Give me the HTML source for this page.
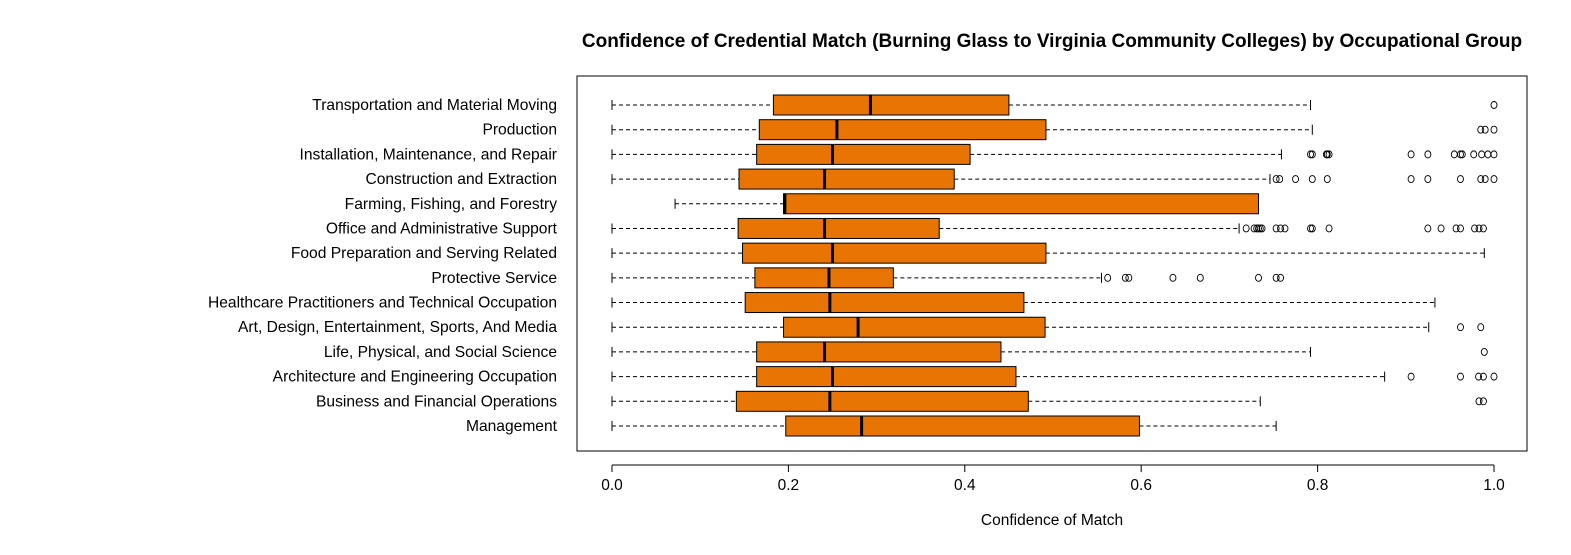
<!DOCTYPE html>
<html><head><meta charset="utf-8"><style>
body{margin:0;background:#fff;width:1571px;height:550px;overflow:hidden}
svg text{font-family:"Liberation Sans",Arial,sans-serif}
</style></head><body>
<svg id="chart" width="1571" height="550" xmlns="http://www.w3.org/2000/svg">
<text x="1052" y="47" text-anchor="middle" font-size="19" font-weight="bold">Confidence of Credential Match (Burning Glass to Virginia Community Colleges) by Occupational Group</text>
<rect x="577" y="76" width="950" height="375" fill="none" stroke="#000" stroke-width="1"/>
<g id="marks"></g>
<text x="1052" y="525" text-anchor="middle" font-size="15.5">Confidence of Match</text>
</svg>
<script>
const categories=["Transportation and Material Moving","Production","Installation, Maintenance, and Repair","Construction and Extraction","Farming, Fishing, and Forestry","Office and Administrative Support","Food Preparation and Serving Related","Protective Service","Healthcare Practitioners and Technical Occupation","Art, Design, Entertainment, Sports, And Media","Life, Physical, and Social Science","Architecture and Engineering Occupation","Business and Financial Operations","Management"];
const whiskerLow=[0,0,0,0,0.0715,0,0,0,0,0,0,0,0,0];
const q1=[0.183,0.167,0.164,0.144,0.1945,0.143,0.148,0.162,0.151,0.1945,0.164,0.164,0.141,0.197];
const medians=[0.293,0.255,0.250,0.241,0.196,0.241,0.250,0.246,0.247,0.279,0.241,0.250,0.247,0.283];
const q3=[0.450,0.492,0.406,0.388,0.733,0.371,0.492,0.319,0.467,0.491,0.441,0.458,0.472,0.598];
const whiskerHigh=[0.792,0.794,0.759,0.746,0.733,0.711,0.989,0.555,0.933,0.926,0.792,0.876,0.735,0.753];
const outliers=[[1.0],[0.985,0.99,1.0],[0.792,0.794,0.810,0.811,0.813,0.906,0.925,0.955,0.962,0.964,0.977,0.986,0.993,1.0],[0.753,0.757,0.775,0.794,0.811,0.906,0.925,0.962,0.985,0.990,1.0],[],[0.719,0.728,0.731,0.733,0.735,0.737,0.753,0.758,0.763,0.792,0.794,0.813,0.925,0.940,0.957,0.962,0.978,0.983,0.988],[],[0.562,0.582,0.586,0.636,0.667,0.733,0.753,0.758],[],[0.962,0.985],[0.989],[0.906,0.962,0.9825,0.988,1.0],[0.983,0.988],[]];
const ticks=[0,0.2,0.4,0.6,0.8,1.0];
const tickLabels=["0.0","0.2","0.4","0.6","0.8","1.0"];

const NS="http://www.w3.org/2000/svg";
const g=document.getElementById('marks');
const xS=v=>612+882*v;
const yS=i=>105+i*(426-105)/(categories.length-1);
function mk(t,a){const e=document.createElementNS(NS,t);for(const k in a)e.setAttribute(k,a[k]);g.appendChild(e);return e;}
categories.forEach((c,i)=>{
  const y=yS(i);
  let t=mk('text',{x:557,y:y+5,'text-anchor':'end','font-size':15.6});t.textContent=c;
  
  
  let w=mk('line',{x1:xS(whiskerLow[i]),x2:xS(q1[i]),y1:y,y2:y,stroke:'#000','stroke-dasharray':'4,3'});
  
  
  let w2=mk('line',{x1:xS(q3[i]),x2:xS(whiskerHigh[i]),y1:y,y2:y,stroke:'#000','stroke-dasharray':'4,3'});
  
  
  [whiskerLow[i],whiskerHigh[i]].forEach(v=>{
    let cap=mk('line',{x1:xS(v),x2:xS(v),y1:y-5,y2:y+5,stroke:'#000'});
    
    
  });
  let b=mk('rect',{x:xS(q1[i]),y:y-10,width:xS(q3[i])-xS(q1[i]),height:20,fill:'#e87503',stroke:'#000','stroke-width':1});
  
  
  let m=mk('line',{x1:xS(medians[i]),x2:xS(medians[i]),y1:y-10,y2:y+10,stroke:'#000','stroke-width':3});
  
  
  outliers[i].forEach(v=>{
    let o=mk('ellipse',{cx:xS(v),cy:y,rx:3,ry:3.5,fill:'none',stroke:'#000','stroke-width':0.9});
    
    
  });
});
let ax=mk('line',{x1:xS(0),x2:xS(1),y1:465,y2:465,stroke:'#000'});


ticks.forEach((v,k)=>{
  let tk=mk('line',{x1:xS(v),x2:xS(v),y1:465,y2:472,stroke:'#000'});
  
  
  let tl=mk('text',{x:xS(v),y:490,'text-anchor':'middle','font-size':15.5});tl.textContent=tickLabels[k];
  
  
});
</script>
</body></html>
